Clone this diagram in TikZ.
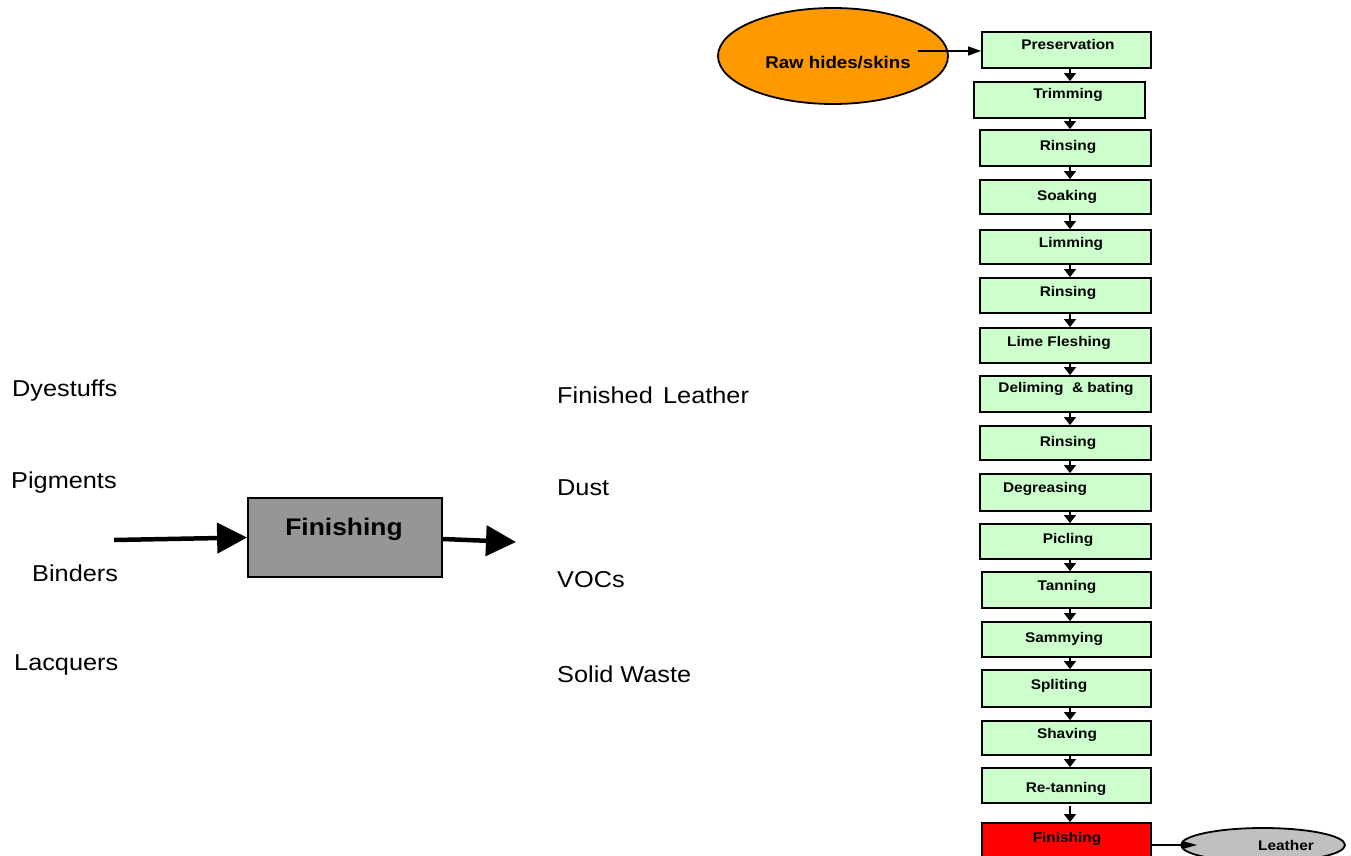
\documentclass[tikz,border=0pt]{standalone}
\usepackage{fontspec}
\setmainfont[FakeStretch=1.1]{Liberation Sans}
\usetikzlibrary{arrows.meta,shapes.geometric}
\definecolor{stepgreen}{HTML}{CCFFCC}
\definecolor{rawfill}{HTML}{FF9900}
\definecolor{finred}{HTML}{FF0000}
\definecolor{leathergray}{HTML}{C0C0C0}
\definecolor{boxgray}{HTML}{969696}
\tikzset{
  stepbox/.style={draw=black, line width=1.8pt, fill=stepgreen, inner sep=0pt},
  steplabel/.style={anchor=base, inner sep=0pt, font=\fontsize{14}{16}\selectfont\bfseries},
  bigtext/.style={anchor=base west, inner sep=0pt, font=\fontsize{23}{26}\selectfont},
  smallarr/.style={line width=1.4pt, -{Triangle[length=8pt,width=12pt]}},
  sidearr/.style={line width=1.3pt, -{Triangle[length=13pt,width=9pt]}},
  thickarr/.style={line width=4.5pt, -{Triangle[length=30pt,width=30pt]}},
}
\begin{document}
\begin{tikzpicture}[x=1pt,y=-1pt]
\useasboundingbox (0,0) rectangle (1351,856);

% process chain on the right
\coordinate (ax) at (1070,0);
\foreach \n/\t/\b/\l/\r/\tx/\bl/\lab/\fc in {
  p1/32/68/982/1151/1068/50/Preservation/stepgreen,
  p2/82/118/974/1145/1068/99/Trimming/stepgreen,
  p3/130/166/980/1151/1068/150/Rinsing/stepgreen,
  p4/180/214/980/1151/1067/200/Soaking/stepgreen,
  p5/230/264/980/1151/1071/247/Limming/stepgreen,
  p6/278/313/980/1151/1068/296/Rinsing/stepgreen,
  p7/328/363/980/1151/1059/346/Lime Fleshing/stepgreen,
  p8/376/412/980/1151/1066/392/Deliming\ \ \& bating/stepgreen,
  p9/426/460/980/1151/1068/446/Rinsing/stepgreen,
  p10/474/511/980/1151/1045/492/Degreasing/stepgreen,
  p11/524/559/980/1151/1068/543/Picling/stepgreen,
  p12/572/608/982/1151/1067/590/Tanning/stepgreen,
  p13/622/657/982/1151/1064/642/Sammying/stepgreen,
  p14/670/707/982/1151/1059/689/Spliting/stepgreen,
  p15/721/755/982/1151/1067/738/Shaving/stepgreen,
  p16/768/803/982/1151/1066/792/Re-tanning/stepgreen,
  p17/823/858/982/1151/1067/842/Finishing/finred}
{
  \node[stepbox, fill=\fc, minimum width={\r-\l}, minimum height={\b-\t}]
    (\n) at ({(\l+\r)/2},{(\t+\b)/2}) {};
  \node[steplabel] (\n t) at (\tx,\bl) {\lab};
}
\foreach \a/\b in {p1/p2,p2/p3,p3/p4,p4/p5,p5/p6,p6/p7,p7/p8,p8/p9,
                   p9/p10,p10/p11,p11/p12,p12/p13,p13/p14,p14/p15,p15/p16}
  \draw[smallarr] (\a.south -| ax) -- (\b.north -| ax);
\coordinate (rt) at (1070,806);
\draw[smallarr] (rt) -- (p17.north -| ax);

% raw material input
\node[ellipse, draw=black, line width=1.8pt, fill=rawfill,
      minimum width=230, minimum height=96, inner sep=0pt] (raw) at (833,56) {};
\node[steplabel, font=\fontsize{17}{19}\selectfont\bfseries] (rawt) at (838,69) {Raw hides/skins};
\coordinate (rawout) at (918,51);
\draw[sidearr] (rawout) -- (p1.west |- rawout);

% product output
\node[ellipse, draw=black, line width=1.8pt, fill=leathergray,
      minimum width=164, minimum height=34, inner sep=0pt] (leather) at (1263,845) {};
\node[steplabel] (leathert) at (1286,850) {Leather};
\coordinate (leatherin) at (1197,845);
\draw[line width=1.3pt, -{Triangle[length=15pt,width=8pt]}] (p17.east |- leatherin) -- (leatherin);

% finishing detail on the left
\node[draw=black, line width=1.8pt, fill=boxgray, minimum width=194, minimum height=79,
      inner sep=0pt] (fin) at (345,537.5) {};
\node[anchor=base, inner sep=0pt, font=\fontsize{24}{28}\selectfont\bfseries] (fint) at (344,535) {Finishing};
\coordinate (finin) at (114,540);
\coordinate (finout) at (516,542);
\draw[thickarr] (finin) -- (fin.west);
\draw[thickarr] (fin.east |- 0,539) -- (finout);

\node[bigtext] (dye) at (12,396) {Dyestuffs};
\node[bigtext] (pig) at (11,488) {Pigments};
\node[bigtext] (bind) at (32,581) {Binders};
\node[bigtext] (lacq) at (14,670) {Lacquers};

\node[bigtext] (fl) at (557,403) {Finished\hspace{0.45em}Leather};
\node[bigtext] (dust) at (557,495) {Dust};
\node[bigtext] (voc) at (557,587) {VOCs};
\node[bigtext] (sw) at (557,682) {Solid Waste};
\end{tikzpicture}
\end{document}
